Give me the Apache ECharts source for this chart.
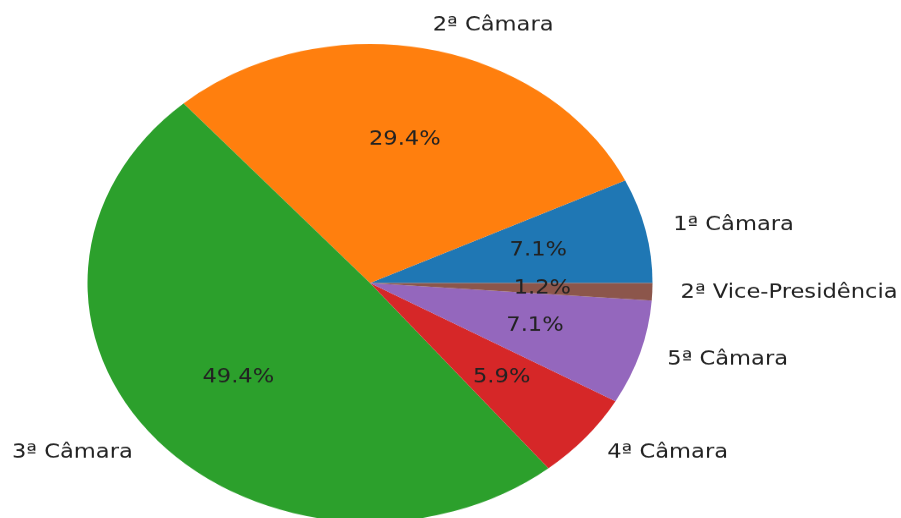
<!DOCTYPE html>
<html>
<head>
<meta charset="utf-8">
<script src="https://cdn.jsdelivr.net/npm/echarts@6/dist/echarts.min.js"></script>
<style>
html,body{margin:0;padding:0;background:#fff;overflow:hidden;}
#wrap{width:901px;height:518px;overflow:hidden;position:relative;}
#chart{width:901px;height:612px;transform:scaleY(0.846);transform-origin:0 0;position:absolute;left:0;top:0;}
</style>
</head>
<body>
<div id="wrap"><div id="chart"></div></div>
<script>
const categories = ['1ª Câmara', '2ª Câmara', '3ª Câmara', '4ª Câmara', '5ª Câmara', '2ª Vice-Presidência'];
const counts = [6, 25, 42, 5, 6, 1];
const colors = ['#1f77b4', '#ff7f0e', '#2ca02c', '#d62728', '#9467bd', '#8c564b'];

const R = 282.5;
const total = counts.reduce((a, b) => a + b, 0);
const data = categories.map((c, i) => ({ name: c, value: counts[i], itemStyle: { color: colors[i] } }));
const font = { fontFamily: 'DejaVu Sans', fontSize: 22.6, color: '#222' };

const chart = echarts.init(document.getElementById('chart'), null, { renderer: 'canvas' });
chart.setOption({
  animation: false,
  series: [
    {
      type: 'pie',
      center: [370, 334.5],
      radius: [0, R],
      startAngle: 0,
      clockwise: false,
      avoidLabelOverlap: false,
      emphasis: { disabled: true },
      itemStyle: { borderWidth: 0 },
      label: Object.assign({ show: true, position: 'outside', formatter: '{b}', distanceToLabelLine: 0 }, font),
      labelLine: { show: false, length: R * 0.1, length2: 0 },
      data: data
    },
    {
      type: 'pie',
      center: [370, 334.5],
      radius: [R * 0.2, R],
      startAngle: 0,
      clockwise: false,
      silent: true,
      avoidLabelOverlap: false,
      emphasis: { disabled: true },
      itemStyle: { color: 'rgba(0,0,0,0)', borderWidth: 0 },
      label: Object.assign({ show: true, position: 'inside', formatter: p => (p.value / total * 100).toFixed(1) + '%' }, font),
      labelLine: { show: false },
      data: categories.map((c, i) => ({ name: c, value: counts[i] }))
    }
  ]
});
</script>
</body>
</html>
